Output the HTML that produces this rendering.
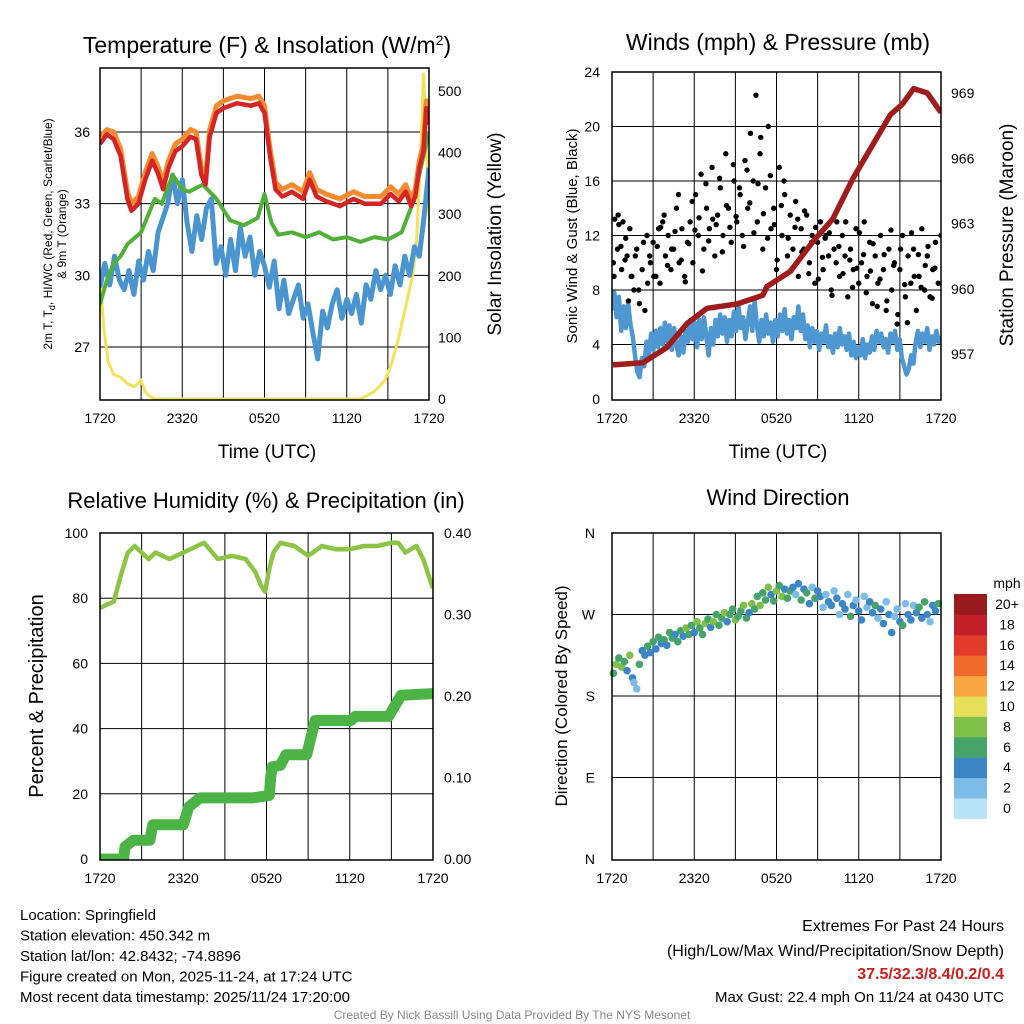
<!DOCTYPE html>
<html><head><meta charset="utf-8"><style>
body{margin:0;background:#fff;}
svg{display:block;font-family:"Liberation Sans",Arial,sans-serif;}
</style></head><body>
<svg id="c" width="1024" height="1024" viewBox="0 0 1024 1024" xmlns="http://www.w3.org/2000/svg"></svg>
<script>
// ---------- DATA ----------
const xTickLabels = ["1720","2320","0520","1120","1720"];
// Panel 1
const tempT = [0,0.5,1,1.5,2,2.3,2.8,3.3,3.8,4.2,4.6,5.0,5.5,6,6.6,7.0,7.4,7.7,8.0,8.5,9,10,11,11.6,12,12.4,12.8,13.3,14,14.8,15.3,15.8,16.5,17.5,18.5,19.3,20.5,21.2,21.8,22.3,22.7,23,23.3,23.6,23.8,24];
const tempRed = [35.5,35.9,35.7,35.0,33.2,32.7,33.0,34.0,34.8,34.3,33.6,34.5,35.2,35.4,35.8,35.7,34.2,33.8,35.8,36.8,37.0,37.2,37.1,37.2,36.8,35.0,33.6,33.3,33.5,33.2,34.0,33.3,33.1,32.9,33.2,33.0,33.0,33.4,33.1,33.5,32.9,33.3,34.5,35.2,37.0,36.3];
const tempOrange = [35.8,36.1,36.0,35.3,33.5,33.0,33.3,34.3,35.1,34.6,33.9,34.8,35.5,35.7,36.1,36.0,34.5,34.1,36.1,37.1,37.3,37.5,37.4,37.5,37.1,35.3,33.9,33.6,33.8,33.5,34.3,33.6,33.4,33.2,33.5,33.3,33.3,33.7,33.4,33.8,33.2,33.6,34.8,35.5,37.3,36.6];
const dewT = [0,0.5,1,1.5,2,3,4,4.5,5.3,6,6.5,7.5,8.5,9.5,10.5,11.5,12,12.5,13,14,15,16,17,18,19,20,21,22,22.8,23.4,24];
const dewV = [28.8,29.8,30.5,30.8,31.3,31.8,33.2,33.0,34.2,33.6,33.5,33.8,33.2,32.3,32.1,32.4,33.4,32.2,31.7,31.8,31.6,31.8,31.5,31.6,31.4,31.6,31.5,31.8,33.0,34.5,36.0];
const hiwcV = [29.5,30.5,29.6,30.8,29.8,29.4,30.2,29.2,30.6,29.8,31.0,30.2,31.8,32.4,33.0,34.2,33.0,34.0,32.2,31.0,32.5,31.5,32.8,33.2,30.5,31.2,30.0,31.5,30.2,32.0,30.8,31.6,30.0,31.0,30.4,29.5,30.6,28.6,29.8,28.4,29.0,29.6,28.2,28.8,27.6,26.5,28.5,27.8,28.8,29.4,28.2,29.0,28.4,29.2,28.0,29.6,29.0,30.2,29.4,30.0,29.2,30.4,29.6,30.8,30.0,31.2,30.8,32.5,34.5];
const solarT = [0,0.3,0.6,1,1.5,2,2.5,3,3.3,3.6,4,8,12,16,19,20,20.8,21.3,21.8,22.3,22.8,23.1,23.4,23.6,23.8,24];
const solarV = [200,110,60,40,35,25,20,30,12,5,0,0,0,0,0,12,30,60,100,150,200,260,400,530,420,300];
const p1LeftTicks = [27,30,33,36];
const p1RightTicks = [0,100,200,300,400,500];
// Panel 2
const windV = [6.5,7.8,6.0,7.5,5.0,6.8,5.2,7.0,5.5,4.6,3.2,2.0,
1.6,3.0,2.4,4.2,3.2,4.8,3.6,5.0,3.8,5.2,4.0,5.6,
4.2,5.4,3.6,5.2,4.0,3.2,4.6,3.4,5.0,4.2,5.8,4.4,
5.6,3.8,5.8,4.4,6.0,4.6,3.2,5.2,4.0,5.8,4.6,6.2,
4.8,6.0,4.2,5.8,4.6,6.4,5.0,6.8,5.2,6.0,4.4,5.6,
6.8,5.0,7.2,5.4,4.2,5.8,4.6,6.2,4.8,5.6,4.2,5.8,
4.6,6.2,5.0,6.6,4.8,5.8,4.4,6.0,5.2,6.8,5.0,6.2,
4.4,5.4,3.8,5.2,4.2,5.0,3.6,4.8,4.2,5.4,3.8,4.6,
3.4,4.8,3.8,5.2,4.0,4.6,3.6,4.8,3.2,4.2,3.0,3.8,
3.2,4.4,3.0,4.0,3.4,4.6,3.6,5.0,4.2,4.8,3.8,4.4,
3.4,4.8,4.2,5.0,3.6,4.4,3.0,2.4,1.8,2.2,3.2,2.6,
4.2,5.0,3.8,4.8,4.2,5.2,3.6,4.6,4.0,5.0,4.2,4.6];
const presT = [0.07,2.26,4.0,5.47,6.93,9.12,11.0,11.3,13.0,14.7,16.1,17.6,19.1,20.3,21.2,22.0,23.0,24];
const presV = [956.5,956.6,957.3,958.4,959.1,959.3,959.7,960.1,960.8,962.2,963.2,965.1,966.7,968.0,968.5,969.2,969.0,968.1];
const gustT = [0.1,0.2,0.4,0.5,0.7,0.8,1.0,1.1,1.3,1.4,1.6,1.8,2.0,2.2,2.4,2.6,2.8,3.0,3.2,3.4,3.5,3.7,3.9,4.1,4.3,4.5,4.7,4.9,5.1,5.3,5.5,5.7,5.9,6.1,6.3,6.5,6.7,6.9,7.1,7.3,7.5,7.7,7.9,8.1,8.3,8.5,8.7,8.9,9.1,9.3,9.5,9.7,9.9,10.1,10.3,10.5,10.6,10.8,11.0,11.2,11.4,11.6,11.8,12.0,12.2,12.4,12.6,12.8,13.0,13.2,13.4,13.6,13.8,14.0,14.2,14.4,14.6,14.8,15.0,15.2,15.4,15.6,15.8,16.0,16.2,16.4,16.6,16.8,17.0,17.2,17.4,17.6,17.8,18.0,18.2,18.4,18.6,18.8,19.0,19.2,19.4,19.6,19.8,20.0,20.2,20.4,20.6,20.8,21.0,21.2,21.4,21.6,21.8,22.0,22.2,22.4,22.6,22.8,23.0,23.2,23.4,23.6,23.8,24.0,
0.15,0.45,0.65,0.95,1.2,1.45,1.7,1.95,2.3,2.55,2.75,3.05,3.3,3.55,3.8,4.05,4.35,4.6,4.85,5.05,5.35,5.6,5.85,6.05,6.35,6.6,6.85,7.05,7.35,7.6,7.85,8.05,8.35,8.6,8.85,9.05,9.35,9.6,9.85,10.05,10.35,10.65,10.85,11.05,11.35,11.55,11.85,12.05,12.35,12.55,12.85,13.05,13.35,13.55,13.85,14.05,14.35,14.55,14.85,15.05,15.35,15.55,15.85,16.05,16.35,16.55,16.85,17.05,17.35,17.55,17.85,18.05,18.35,18.55,18.85,19.05,19.35,19.55,19.85,20.05,20.35,20.55,20.85,21.05,21.35,21.55,21.85,22.05,22.35,22.55,22.85,23.05,23.35,23.55,23.85];
const gustV = [10,13.2,11,12.8,9.5,13,11.8,10.5,12.5,9,8,11,7,9.5,6.5,8.5,10,11.5,9,12.5,8.5,13,10.5,12,9.5,11,14,10,12.5,9,11.5,13,10,15,12,16.5,11,14,12.5,17,10.5,13.5,15.5,12,18,14,11.5,16,13,15.5,12,17.5,14,19.5,16,22.3,13,18,11,15.5,20,12.5,14,9.5,17,12,15,10.5,13.5,11,14.5,9,12.5,11,13.5,10,12,8.5,11.5,13,9.5,12,10.5,8,11,13,9,12,10.5,7.5,11,9.5,12.5,8.5,10,13,9,11.5,7,10.5,8.5,12,9.5,6.5,11,8,10,5.5,9.5,12,7.5,10.5,8.5,11,6.5,9,12.5,8,10.5,7.5,9.5,11.5,8.5,
12,9,13.5,11.2,10.2,7.2,9,10.5,8,11.5,12,10.5,9,11.2,12.6,13.5,9.8,11,12.3,15,10.2,8.6,11.4,14.5,12.4,13.3,9.4,15.8,11.6,13.2,12.8,16.2,10.8,14.2,12.6,17.2,13.4,15,11.2,16.8,14.4,12.2,15.8,19.2,13.6,11.8,16.4,12.8,10.2,14.2,16,11.8,9.4,12.6,13.2,10.8,13.8,9.2,11.5,12.6,8.8,10.4,11.8,12.2,7.6,10,11.2,9.2,13,10.2,8.2,9.6,12.2,10.6,7.8,9.4,11.4,6.8,8.8,10.6,7.2,12.4,9.8,6.2,11,8.4,5.6,12.2,9,10.6,8.2,9.8,11.2,7.4,9.6];
const p2LeftTicks = [0,4,8,12,16,20,24];
const p2RightTicks = [957,960,963,966,969];
// Panel 3
const rhT = [0,0.5,1,1.5,2,2.5,3.5,4,5,6,7,7.5,8.5,9.5,10.5,11.2,11.6,11.9,12.2,12.5,13,14,15,16,17,18,19,20,21,21.5,22,22.8,23.3,23.6,24];
const rhV = [77,78,79,87,94,96,92,94,92,94,96,97,92,93,92,88,84,82,89,94,97,96,93,96,95,95,96,96,97,97,94,96,92,88,83];
const prT = [0,1.7,1.8,2.4,3.6,3.8,6.0,6.4,7.2,11.0,12.2,12.3,12.4,13.0,13.4,14.9,15.5,18.1,18.4,20.8,21.7,24];
const prV = [0,0,0.015,0.023,0.023,0.042,0.042,0.064,0.075,0.075,0.078,0.10,0.113,0.115,0.128,0.128,0.17,0.17,0.175,0.175,0.201,0.203];
const p3LeftTicks = [0,20,40,60,80,100];
const p3RightTicks = ["0.00","0.10","0.20","0.30","0.40"];
// Panel 4
const dirT = [0.1,0.3,0.5,0.7,0.9,1.1,1.3,1.5,1.6,1.8,2.0,2.2,2.4,2.6,2.8,3.0,3.2,3.4,3.6,3.8,4.0,4.2,4.4,4.6,4.8,5.0,5.2,5.4,5.6,5.8,6.0,6.2,6.4,6.6,6.8,7.0,7.2,7.4,7.6,7.8,8.0,8.2,8.4,8.6,8.8,9.0,9.2,9.4,9.6,9.8,10.0,10.2,10.4,10.6,10.8,11.0,11.2,11.4,11.6,11.8,12.0,12.2,12.4,12.6,12.8,13.0,13.2,13.4,13.6,13.8,14.0,14.2,14.4,14.6,14.8,15.0,15.2,15.4,15.6,15.8,16.0,16.2,16.4,16.6,16.8,17.0,17.2,17.4,17.6,17.8,18.0,18.2,18.4,18.6,18.8,19.0,19.2,19.4,19.6,19.8,20.0,20.2,20.4,20.6,20.8,21.0,21.2,21.4,21.6,21.8,22.0,22.2,22.4,22.6,22.8,23.0,23.2,23.4,23.6,23.8];
const dirDeg = [205,215,222,212,218,208,225,200,195,188,215,230,225,235,228,240,232,245,238,242,236,250,244,248,240,252,246,255,248,258,250,262,255,248,260,265,256,262,270,258,266,272,262,270,276,264,268,274,280,266,272,282,276,290,280,294,286,300,292,285,296,302,290,298,288,296,300,292,304,286,298,294,282,300,288,296,290,278,292,284,280,296,288,270,282,276,292,268,280,286,274,264,290,278,284,272,280,266,276,260,284,270,250,268,276,262,258,282,270,264,280,272,278,266,284,270,262,280,274,282];
const dirSpd = [6,8,5,7,6,4,8,3,2,1,5,4,4,6,4,5,4,6,4,5,4,5,6,4,5,6,4,7,5,6,4,7,5,6,8,5,4,7,6,5,6,8,4,6,5,7,6,5,8,6,4,7,5,6,8,6,5,7,3,6,8,5,7,4,6,5,3,2,4,5,3,6,4,2,5,3,4,1,2,4,3,2,4,1,3,4,2,5,3,2,4,3,1,2,4,3,5,2,4,3,2,4,3,2,1,3,5,2,4,3,2,4,6,3,5,4,2,3,4,5];
const cbLabels = ["0","2","4","6","8","10","12","14","16","18","20+"];
const cbColors = ["#b8e3f7","#7cbce6","#3d86c6","#46a46a","#80bf4a","#e5df5c","#f7a641","#ef6a2d","#e23b2b","#c31f2a","#981b1e"];

// ---------- HELPERS ----------
const svg=document.getElementById('c');const NS="http://www.w3.org/2000/svg";
function mk(tag,attrs,parent){const e=document.createElementNS(NS,tag);for(const k in attrs)e.setAttribute(k,attrs[k]);(parent||svg).appendChild(e);return e;}
function txt(s,x,y,size,anchor,parent,extra){const e=mk('text',Object.assign({x:x,y:y,'font-size':size,'text-anchor':anchor||'middle',fill:'#000'},extra||{}),parent);e.textContent=s;return e;}
function scale(d0,d1,r0,r1){return v=>r0+(v-d0)/(d1-d0)*(r1-r0);}
function pathFrom(xs,ys){return xs.map((x,i)=>(i?'L':'M')+x.toFixed(1)+','+ys[i].toFixed(1)).join('');}
function stepTimes(n){return Array.from({length:n},(_,i)=>i*24/(n-1));}

function panelFrame(g,x0,y0,x1,y1,X,hLines){
  for(let h=3;h<24;h+=3){mk('line',{x1:X(h),x2:X(h),y1:y0,y2:y1,stroke:'#000','stroke-width':1},g);}
  hLines.forEach(y=>{mk('line',{x1:x0,x2:x1,y1:y,y2:y,stroke:'#000','stroke-width':1},g);});
  xTickLabels.forEach((s,i)=>{const t=txt(s,X(i*6),y1+23,14,'middle',g);
    
    });
}
function border(g,x0,y0,x1,y1){mk('rect',{x:x0,y:y0,width:x1-x0,height:y1-y0,fill:'none',stroke:'#000','stroke-width':1.5},g);}

// ---------- PANEL 1 ----------
(function(){
  const g=mk('g',{});
  const x0=100,x1=429,y0=68,y1=400;
  const X=scale(0,24,x0,x1),Y=scale(36,27,132,347),YS=scale(0,500,399,91);
  panelFrame(g,x0,y0,x1,y1,X,p1LeftTicks.map(Y));
  const clip=mk('clipPath',{id:'cp1'},g);mk('rect',{x:x0,y:y0-20,width:x1-x0,height:y1-y0+20},clip);
  const d=mk('g',{'clip-path':'url(#cp1)'},g);
  const sol=mk('path',{d:pathFrom(solarT.map(X),solarV.map(YS)),fill:'none',stroke:'#f2e25a','stroke-width':3},d);
  
  const ht=stepTimes(hiwcV.length);
  const hb=mk('path',{d:pathFrom(ht.map(X),hiwcV.map(Y)),fill:'none',stroke:'#4a94cf','stroke-width':5,'stroke-linejoin':'round'},d);
  
  const dg=mk('path',{d:pathFrom(dewT.map(X),dewV.map(Y)),fill:'none',stroke:'#4fb03a','stroke-width':4,'stroke-linejoin':'round'},d);
  
  const or=mk('path',{d:pathFrom(tempT.map(X),tempOrange.map(Y)),fill:'none',stroke:'#f58a2e','stroke-width':5,'stroke-linejoin':'round'},d);
  
  const rd=mk('path',{d:pathFrom(tempT.map(X),tempRed.map(Y)),fill:'none',stroke:'#d42424','stroke-width':4.5,'stroke-linejoin':'round'},d);
  
  border(g,x0,y0,x1,y1);
  p1LeftTicks.forEach(v=>{const t=txt(String(v),x0-10,Y(v)+5,14,'end',g);
    });
  p1RightTicks.forEach(v=>{const t=txt(String(v),x1+9,YS(v)+5,14,'start',g);
    });
  const ti=txt('',267,53,23,'middle',g);ti.innerHTML='Temperature (F) &amp; Insolation (W/m<tspan dy="-8" font-size="14">2</tspan><tspan dy="8">)</tspan>';
  
  const xl=txt('Time (UTC)',267,458,19,'middle',g);
  const yl=txt('',0,0,12,'middle',g,{transform:'translate(52,234) rotate(-90)'});
  yl.innerHTML='2m T, T<tspan dy="3" font-size="9">d</tspan><tspan dy="-3">, HI/WC (Red, Green, Scarlet/Blue)</tspan>';
  
  const yl2=txt('& 9m T (Orange)',0,0,12,'middle',g,{transform:'translate(66,234) rotate(-90)'});
  
  const yr=txt('Solar Insolation (Yellow)',0,0,19,'middle',g,{transform:'translate(501,234) rotate(-90)'});
  
})();

// ---------- PANEL 2 ----------
(function(){
  const g=mk('g',{});
  const x0=612,x1=941,y0=72,y1=400;
  const X=scale(0,24,x0,x1),Y=scale(0,24,399,72),YP=scale(957,969,354,93);
  panelFrame(g,x0,y0,x1,y1,X,[4,8,12,16,20].map(Y));
  const clip=mk('clipPath',{id:'cp2'},g);mk('rect',{x:x0,y:y0,width:x1-x0,height:y1-y0},clip);
  const d=mk('g',{'clip-path':'url(#cp2)'},g);
  const wt=stepTimes(windV.length);
  const wl=mk('path',{d:pathFrom(wt.map(X),windV.map(Y)),fill:'none',stroke:'#4f97d0','stroke-width':4.5,'stroke-linejoin':'round'},d);
  
  const n=Math.min(gustT.length,gustV.length);
  for(let i=0;i<n;i++){const c=mk('circle',{cx:X(gustT[i]),cy:Y(gustV[i]),r:2.7,fill:'#000'},d);
    
    }
  const pl=mk('path',{d:pathFrom(presT.map(X),presV.map(YP)),fill:'none',stroke:'#a01c1c','stroke-width':5.5,'stroke-linejoin':'round'},d);
  
  border(g,x0,y0,x1,y1);
  p2LeftTicks.forEach(v=>{const t=txt(String(v),x0-12,Y(v)+5,14,'end',g);
    });
  p2RightTicks.forEach(v=>{const t=txt(String(v),x1+10,YP(v)+5,14,'start',g);
    });
  const ti=txt('Winds (mph) & Pressure (mb)',778,50,23,'middle',g);
  const xl=txt('Time (UTC)',778,458,19,'middle',g);
  const yl=txt('Sonic Wind & Gust (Blue, Black)',0,0,15,'middle',g,{transform:'translate(577,236) rotate(-90)'});
  
  const yr=txt('Station Pressure (Maroon)',0,0,19,'middle',g,{transform:'translate(1013,235) rotate(-90)'});
  
})();

// ---------- PANEL 3 ----------
(function(){
  const g=mk('g',{});
  const x0=100,x1=433,y0=533,y1=860;
  const X=scale(0,24,x0,x1),Y=scale(0,100,859,533),YR=scale(0,0.4,859,533);
  panelFrame(g,x0,y0,x1,y1,X,[20,40,60,80].map(Y));
  const clip=mk('clipPath',{id:'cp3'},g);mk('rect',{x:x0,y:y0,width:x1-x0,height:y1-y0},clip);
  const d=mk('g',{'clip-path':'url(#cp3)'},g);
  const rl=mk('path',{d:pathFrom(rhT.map(X),rhV.map(Y)),fill:'none',stroke:'#8cc446','stroke-width':4.5,'stroke-linejoin':'round'},d);
  
  const pr=mk('path',{d:pathFrom(prT.map(X),prV.map(YR)),fill:'none',stroke:'#4cb446','stroke-width':11,'stroke-linejoin':'round','stroke-linecap':'round'},d);
  
  border(g,x0,y0,x1,y1);
  p3LeftTicks.forEach(v=>{const t=txt(String(v),x0-12,Y(v)+5,14,'end',g);
    });
  p3RightTicks.forEach(v=>{const t=txt(v,x1+11,YR(parseFloat(v))+5,14,'start',g);
    });
  const ti=txt('Relative Humidity (%) & Precipitation (in)',266,508,22,'middle',g);
  const yl=txt('Percent & Precipitation',0,0,20,'middle',g,{transform:'translate(43,696) rotate(-90)'});
  
})();

// ---------- PANEL 4 ----------
(function(){
  const g=mk('g',{});
  const x0=612,x1=941,y0=533,y1=860;
  const X=scale(0,24,x0,x1),Y=scale(0,360,859,533);
  panelFrame(g,x0,y0,x1,y1,X,[90,180,270].map(Y));
  function col(s){const i=Math.min(10,Math.max(0,Math.round(s/2)));return cbColors[i];}
  dirT.forEach((t,i)=>{const c=mk('circle',{cx:X(t),cy:Y(dirDeg[i]),r:3.8,fill:col(dirSpd[i])},g);
    });
  border(g,x0,y0,x1,y1);
  ["N","E","S","W","N"].forEach((s,i)=>{const t=txt(s,x0-17,Y(i*90)+5,14,'end',g);
    });
  const ti=txt('Wind Direction',778,505,22,'middle',g);
  const yl=txt('Direction (Colored By Speed)',0,0,17,'middle',g,{transform:'translate(567,696) rotate(-90)'});
  
  const cb=mk('g',{},g);
  const bx=954,bw=33,bh=20.4,top=594;
  cbColors.forEach((c,i)=>{const r=mk('rect',{x:bx,y:top+(10-i)*bh,width:bw,height:bh+0.5,fill:c},cb);
    
    const t=txt(cbLabels[i],1007,top+(10-i)*bh+15,14,'middle',cb);
    });
  const u=txt('mph',1007,588,14,'middle',cb);
})();

// ---------- FOOTER ----------
(function(){
  const g=mk('g',{});
  ["Location: Springfield","Station elevation: 450.342 m","Station lat/lon: 42.8432; -74.8896","Figure created on Mon, 2025-11-24, at 17:24 UTC","Most recent data timestamp: 2025/11/24 17:20:00"].forEach((s,i)=>{
    const t=txt(s,20,920+i*20.5,15,'start',g);});
  const h=mk('g',{});
  const a=txt('Extremes For Past 24 Hours',1004,931,16,'end',h);
  const b=txt('(High/Low/Max Wind/Precipitation/Snow Depth)',1004,956,16,'end',h);
  const c=txt('37.5/32.3/8.4/0.2/0.4',1004,979,16,'end',h,{fill:'#cc1f1f','font-weight':'bold'});
  const d=txt('Max Gust: 22.4 mph On 11/24 at 0430 UTC',1004,1002,15,'end',h);
  const f=txt('Created By Nick Bassill Using Data Provided By The NYS Mesonet',512,1019,12,'middle',null,{fill:'#888'});
  
})();
</script>
</body></html>
